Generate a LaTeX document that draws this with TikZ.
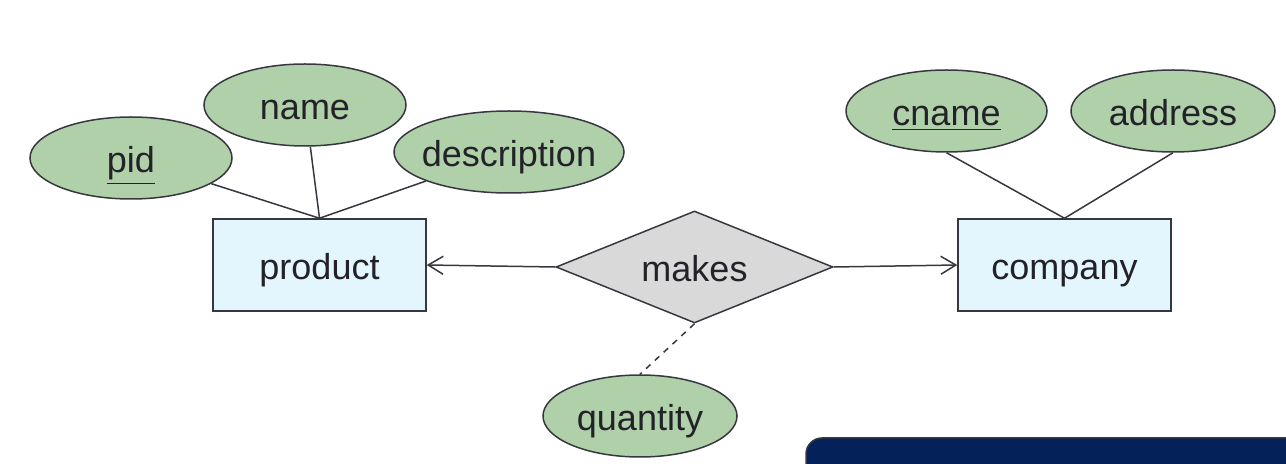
\documentclass[tikz,border=0pt]{standalone}
\usepackage{fontspec}
\setmainfont{Liberation Sans}
\usetikzlibrary{arrows.meta, positioning, shapes.geometric}
\definecolor{attrgreen}{RGB}{176, 208, 170}
\definecolor{entblue}{RGB}{228, 246, 253}
\definecolor{relgray}{RGB}{217, 217, 217}
\definecolor{edgegray}{RGB}{55, 55, 65}
\definecolor{textgray}{RGB}{34, 34, 40}
\definecolor{navy}{RGB}{5, 33, 90}

\tikzset{
    label text/.style={font=\fontsize{18}{21}\selectfont, text=textgray, text height=15pt, text depth=0pt},
    entity/.style={label text, draw=edgegray, line width=0.75pt, fill=entblue, minimum width=106.5pt, minimum height=46pt, inner sep=0pt},
    attr/.style={label text, draw=edgegray, line width=0.75pt, fill=attrgreen, ellipse, inner sep=0pt, minimum height=41pt},
    rel/.style={label text, draw=edgegray, line width=0.75pt, fill=relgray, diamond, aspect=2.5, inner sep=0pt, minimum width=138.5pt, minimum height=56pt},
    link/.style={draw=edgegray, line width=0.75pt},
    toent/.style={link, -{Straight Barb[length=7.5pt, width=9pt, line width=0.75pt]}}
}

\begin{document}
\begin{tikzpicture}[x=0.5pt, y=-0.5pt]
    \useasboundingbox (0,0) rectangle (1286,464);
    % entities and relationship
    \node[entity] (product) at (319.5,265) {product};
    \node[entity] (company) at (1064.5,265) {company};
    \node[rel] (makes) at (694.5,267) {makes};
    % attributes
    \node[attr, minimum width=101pt] (pid) at (131,158) {\underline{pid}};
    \node[attr, minimum width=101pt] (name) at (305,105) {name};
    \node[attr, minimum width=115pt, inner xsep=-3pt] (descr) at (509,152) {description};
    \node[attr, minimum width=100.5pt] (cname) at (946.5,111) {\underline{cname}};
    \node[attr, minimum width=102pt] (address) at (1173,111) {address};
    \node[attr, minimum width=97pt] (quantity) at (640,416) {quantity};
    \draw[link] (pid) -- (product.north);
    \draw[link] (name) -- (product.north);
    \draw[link] (descr) -- (product.north);
    \draw[link] (cname.south) -- (company.north);
    \draw[link] (address.south) -- (company.north);
    \draw[toent] (makes.west) -- (product.east);
    \draw[toent] (makes.east) -- (company.west);
    \draw[link, dashed] (makes.south) -- (quantity.north);
    % cropped panel at the bottom right
    \clip (0,0) rectangle (1286,464);
    \draw[draw=edgegray, line width=0.75pt, fill=navy, rounded corners=8pt] (806,520) -- (806,438) -- (1320,438) -- (1320,520);
\end{tikzpicture}
\end{document}
